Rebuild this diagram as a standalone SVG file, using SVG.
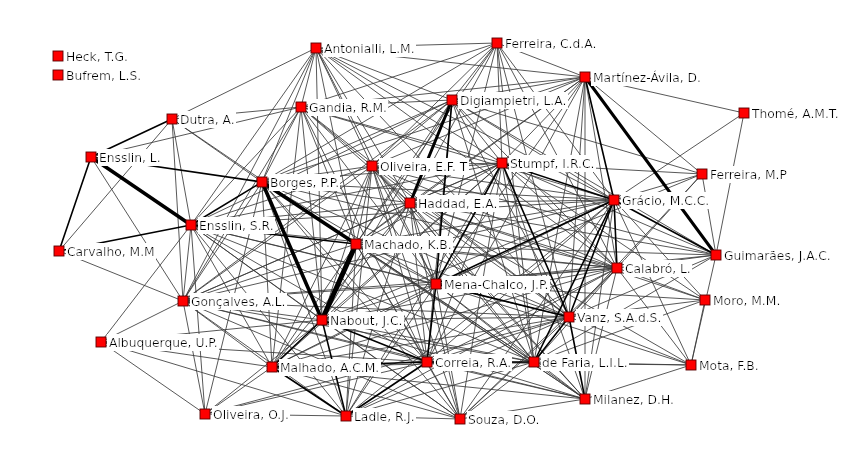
<svg xmlns="http://www.w3.org/2000/svg" width="850" height="458" viewBox="0 0 850 458">
<defs>
<filter id="lbl" x="-0.01" y="-0.05" width="1.02" height="1.1">
<feFlood flood-color="#ffffff" result="bg"/>
<feMerge><feMergeNode in="bg"/><feMergeNode in="SourceGraphic"/></feMerge>
</filter>
</defs>
<style>
.bg{fill:#fff}
#edges line{stroke:#3a3a3a;stroke-width:0.85;stroke-linecap:round}
#edges .m line{stroke:#000;stroke-width:1.6}
#edges .k line{stroke:#000;stroke-width:3.6}
.n rect{fill:#ff0000;stroke:#5a0000;stroke-width:0.9}
.n text{font-family:"DejaVu Sans","Liberation Sans",sans-serif;font-size:12.3px;fill:#000;filter:url(#lbl)}
</style>
<rect class="bg" x="0" y="0" width="850" height="458"/>
<g id="edges">
<g class="t">
<line x1="316" y1="48" x2="497" y2="43"/>
<line x1="316" y1="48" x2="301" y2="107"/>
<line x1="316" y1="48" x2="172" y2="119"/>
<line x1="316" y1="48" x2="262" y2="182"/>
<line x1="316" y1="48" x2="191" y2="225"/>
<line x1="316" y1="48" x2="183" y2="301"/>
<line x1="316" y1="48" x2="372" y2="166"/>
<line x1="316" y1="48" x2="410" y2="203"/>
<line x1="316" y1="48" x2="356" y2="244"/>
<line x1="316" y1="48" x2="322" y2="320"/>
<line x1="316" y1="48" x2="452" y2="100"/>
<line x1="316" y1="48" x2="502" y2="163"/>
<line x1="316" y1="48" x2="585" y2="77"/>
<line x1="316" y1="48" x2="614" y2="200"/>
<line x1="316" y1="48" x2="436" y2="284"/>
<line x1="316" y1="48" x2="569" y2="317"/>
<line x1="316" y1="48" x2="617" y2="268"/>
<line x1="497" y1="43" x2="452" y2="100"/>
<line x1="497" y1="43" x2="301" y2="107"/>
<line x1="497" y1="43" x2="372" y2="166"/>
<line x1="497" y1="43" x2="410" y2="203"/>
<line x1="497" y1="43" x2="502" y2="163"/>
<line x1="497" y1="43" x2="585" y2="77"/>
<line x1="497" y1="43" x2="614" y2="200"/>
<line x1="497" y1="43" x2="436" y2="284"/>
<line x1="497" y1="43" x2="569" y2="317"/>
<line x1="497" y1="43" x2="617" y2="268"/>
<line x1="497" y1="43" x2="356" y2="244"/>
<line x1="497" y1="43" x2="262" y2="182"/>
<line x1="497" y1="43" x2="534" y2="362"/>
<line x1="585" y1="77" x2="452" y2="100"/>
<line x1="585" y1="77" x2="301" y2="107"/>
<line x1="585" y1="77" x2="372" y2="166"/>
<line x1="585" y1="77" x2="410" y2="203"/>
<line x1="585" y1="77" x2="502" y2="163"/>
<line x1="585" y1="77" x2="744" y2="113"/>
<line x1="585" y1="77" x2="702" y2="174"/>
<line x1="585" y1="77" x2="617" y2="268"/>
<line x1="585" y1="77" x2="569" y2="317"/>
<line x1="585" y1="77" x2="436" y2="284"/>
<line x1="585" y1="77" x2="534" y2="362"/>
<line x1="585" y1="77" x2="585" y2="399"/>
<line x1="585" y1="77" x2="356" y2="244"/>
<line x1="585" y1="77" x2="427" y2="362"/>
<line x1="585" y1="77" x2="262" y2="182"/>
<line x1="744" y1="113" x2="614" y2="200"/>
<line x1="744" y1="113" x2="716" y2="255"/>
<line x1="172" y1="119" x2="301" y2="107"/>
<line x1="172" y1="119" x2="262" y2="182"/>
<line x1="172" y1="119" x2="191" y2="225"/>
<line x1="172" y1="119" x2="183" y2="301"/>
<line x1="172" y1="119" x2="59" y2="251"/>
<line x1="172" y1="119" x2="356" y2="244"/>
<line x1="301" y1="107" x2="91" y2="157"/>
<line x1="301" y1="107" x2="262" y2="182"/>
<line x1="301" y1="107" x2="191" y2="225"/>
<line x1="301" y1="107" x2="183" y2="301"/>
<line x1="301" y1="107" x2="372" y2="166"/>
<line x1="301" y1="107" x2="410" y2="203"/>
<line x1="301" y1="107" x2="356" y2="244"/>
<line x1="301" y1="107" x2="322" y2="320"/>
<line x1="301" y1="107" x2="452" y2="100"/>
<line x1="301" y1="107" x2="502" y2="163"/>
<line x1="301" y1="107" x2="614" y2="200"/>
<line x1="301" y1="107" x2="436" y2="284"/>
<line x1="301" y1="107" x2="427" y2="362"/>
<line x1="301" y1="107" x2="569" y2="317"/>
<line x1="301" y1="107" x2="272" y2="367"/>
<line x1="452" y1="100" x2="372" y2="166"/>
<line x1="452" y1="100" x2="502" y2="163"/>
<line x1="452" y1="100" x2="614" y2="200"/>
<line x1="452" y1="100" x2="702" y2="174"/>
<line x1="452" y1="100" x2="356" y2="244"/>
<line x1="452" y1="100" x2="569" y2="317"/>
<line x1="452" y1="100" x2="617" y2="268"/>
<line x1="452" y1="100" x2="427" y2="362"/>
<line x1="452" y1="100" x2="534" y2="362"/>
<line x1="452" y1="100" x2="262" y2="182"/>
<line x1="452" y1="100" x2="191" y2="225"/>
<line x1="452" y1="100" x2="322" y2="320"/>
<line x1="452" y1="100" x2="716" y2="255"/>
<line x1="452" y1="100" x2="183" y2="301"/>
<line x1="91" y1="157" x2="183" y2="301"/>
<line x1="372" y1="166" x2="502" y2="163"/>
<line x1="372" y1="166" x2="410" y2="203"/>
<line x1="372" y1="166" x2="614" y2="200"/>
<line x1="372" y1="166" x2="262" y2="182"/>
<line x1="372" y1="166" x2="191" y2="225"/>
<line x1="372" y1="166" x2="356" y2="244"/>
<line x1="372" y1="166" x2="436" y2="284"/>
<line x1="372" y1="166" x2="322" y2="320"/>
<line x1="372" y1="166" x2="427" y2="362"/>
<line x1="372" y1="166" x2="569" y2="317"/>
<line x1="372" y1="166" x2="534" y2="362"/>
<line x1="372" y1="166" x2="617" y2="268"/>
<line x1="372" y1="166" x2="183" y2="301"/>
<line x1="372" y1="166" x2="272" y2="367"/>
<line x1="372" y1="166" x2="346" y2="416"/>
<line x1="372" y1="166" x2="460" y2="419"/>
<line x1="372" y1="166" x2="716" y2="255"/>
<line x1="372" y1="166" x2="585" y2="399"/>
<line x1="502" y1="163" x2="410" y2="203"/>
<line x1="502" y1="163" x2="262" y2="182"/>
<line x1="502" y1="163" x2="191" y2="225"/>
<line x1="502" y1="163" x2="356" y2="244"/>
<line x1="502" y1="163" x2="322" y2="320"/>
<line x1="502" y1="163" x2="427" y2="362"/>
<line x1="502" y1="163" x2="534" y2="362"/>
<line x1="502" y1="163" x2="617" y2="268"/>
<line x1="502" y1="163" x2="716" y2="255"/>
<line x1="502" y1="163" x2="702" y2="174"/>
<line x1="502" y1="163" x2="705" y2="300"/>
<line x1="502" y1="163" x2="585" y2="399"/>
<line x1="502" y1="163" x2="183" y2="301"/>
<line x1="502" y1="163" x2="272" y2="367"/>
<line x1="502" y1="163" x2="346" y2="416"/>
<line x1="502" y1="163" x2="460" y2="419"/>
<line x1="702" y1="174" x2="614" y2="200"/>
<line x1="702" y1="174" x2="617" y2="268"/>
<line x1="702" y1="174" x2="569" y2="317"/>
<line x1="702" y1="174" x2="716" y2="255"/>
<line x1="702" y1="174" x2="436" y2="284"/>
<line x1="262" y1="182" x2="410" y2="203"/>
<line x1="262" y1="182" x2="614" y2="200"/>
<line x1="262" y1="182" x2="436" y2="284"/>
<line x1="262" y1="182" x2="427" y2="362"/>
<line x1="262" y1="182" x2="569" y2="317"/>
<line x1="262" y1="182" x2="534" y2="362"/>
<line x1="262" y1="182" x2="183" y2="301"/>
<line x1="262" y1="182" x2="272" y2="367"/>
<line x1="262" y1="182" x2="346" y2="416"/>
<line x1="262" y1="182" x2="617" y2="268"/>
<line x1="262" y1="182" x2="460" y2="419"/>
<line x1="262" y1="182" x2="585" y2="399"/>
<line x1="262" y1="182" x2="205" y2="414"/>
<line x1="410" y1="203" x2="614" y2="200"/>
<line x1="410" y1="203" x2="191" y2="225"/>
<line x1="410" y1="203" x2="356" y2="244"/>
<line x1="410" y1="203" x2="436" y2="284"/>
<line x1="410" y1="203" x2="322" y2="320"/>
<line x1="410" y1="203" x2="427" y2="362"/>
<line x1="410" y1="203" x2="569" y2="317"/>
<line x1="410" y1="203" x2="534" y2="362"/>
<line x1="410" y1="203" x2="617" y2="268"/>
<line x1="410" y1="203" x2="183" y2="301"/>
<line x1="410" y1="203" x2="272" y2="367"/>
<line x1="410" y1="203" x2="346" y2="416"/>
<line x1="410" y1="203" x2="460" y2="419"/>
<line x1="410" y1="203" x2="585" y2="399"/>
<line x1="410" y1="203" x2="705" y2="300"/>
<line x1="410" y1="203" x2="716" y2="255"/>
<line x1="410" y1="203" x2="691" y2="365"/>
<line x1="614" y1="200" x2="191" y2="225"/>
<line x1="614" y1="200" x2="356" y2="244"/>
<line x1="614" y1="200" x2="427" y2="362"/>
<line x1="614" y1="200" x2="183" y2="301"/>
<line x1="614" y1="200" x2="322" y2="320"/>
<line x1="614" y1="200" x2="272" y2="367"/>
<line x1="614" y1="200" x2="346" y2="416"/>
<line x1="614" y1="200" x2="460" y2="419"/>
<line x1="614" y1="200" x2="585" y2="399"/>
<line x1="614" y1="200" x2="691" y2="365"/>
<line x1="614" y1="200" x2="705" y2="300"/>
<line x1="191" y1="225" x2="183" y2="301"/>
<line x1="191" y1="225" x2="101" y2="342"/>
<line x1="191" y1="225" x2="322" y2="320"/>
<line x1="191" y1="225" x2="436" y2="284"/>
<line x1="191" y1="225" x2="427" y2="362"/>
<line x1="191" y1="225" x2="569" y2="317"/>
<line x1="191" y1="225" x2="534" y2="362"/>
<line x1="191" y1="225" x2="272" y2="367"/>
<line x1="191" y1="225" x2="346" y2="416"/>
<line x1="191" y1="225" x2="205" y2="414"/>
<line x1="191" y1="225" x2="617" y2="268"/>
<line x1="191" y1="225" x2="460" y2="419"/>
<line x1="356" y1="244" x2="436" y2="284"/>
<line x1="356" y1="244" x2="427" y2="362"/>
<line x1="356" y1="244" x2="569" y2="317"/>
<line x1="356" y1="244" x2="534" y2="362"/>
<line x1="356" y1="244" x2="183" y2="301"/>
<line x1="356" y1="244" x2="272" y2="367"/>
<line x1="356" y1="244" x2="346" y2="416"/>
<line x1="356" y1="244" x2="460" y2="419"/>
<line x1="356" y1="244" x2="617" y2="268"/>
<line x1="356" y1="244" x2="585" y2="399"/>
<line x1="356" y1="244" x2="716" y2="255"/>
<line x1="59" y1="251" x2="183" y2="301"/>
<line x1="716" y1="255" x2="617" y2="268"/>
<line x1="716" y1="255" x2="569" y2="317"/>
<line x1="716" y1="255" x2="436" y2="284"/>
<line x1="716" y1="255" x2="534" y2="362"/>
<line x1="716" y1="255" x2="691" y2="365"/>
<line x1="617" y1="268" x2="436" y2="284"/>
<line x1="617" y1="268" x2="569" y2="317"/>
<line x1="617" y1="268" x2="427" y2="362"/>
<line x1="617" y1="268" x2="534" y2="362"/>
<line x1="617" y1="268" x2="705" y2="300"/>
<line x1="617" y1="268" x2="691" y2="365"/>
<line x1="617" y1="268" x2="585" y2="399"/>
<line x1="617" y1="268" x2="322" y2="320"/>
<line x1="617" y1="268" x2="346" y2="416"/>
<line x1="617" y1="268" x2="460" y2="419"/>
<line x1="617" y1="268" x2="183" y2="301"/>
<line x1="617" y1="268" x2="272" y2="367"/>
<line x1="436" y1="284" x2="534" y2="362"/>
<line x1="436" y1="284" x2="322" y2="320"/>
<line x1="436" y1="284" x2="183" y2="301"/>
<line x1="436" y1="284" x2="272" y2="367"/>
<line x1="436" y1="284" x2="346" y2="416"/>
<line x1="436" y1="284" x2="460" y2="419"/>
<line x1="436" y1="284" x2="585" y2="399"/>
<line x1="436" y1="284" x2="705" y2="300"/>
<line x1="436" y1="284" x2="691" y2="365"/>
<line x1="183" y1="301" x2="101" y2="342"/>
<line x1="183" y1="301" x2="322" y2="320"/>
<line x1="183" y1="301" x2="569" y2="317"/>
<line x1="183" y1="301" x2="427" y2="362"/>
<line x1="183" y1="301" x2="534" y2="362"/>
<line x1="183" y1="301" x2="272" y2="367"/>
<line x1="183" y1="301" x2="346" y2="416"/>
<line x1="183" y1="301" x2="205" y2="414"/>
<line x1="183" y1="301" x2="585" y2="399"/>
<line x1="183" y1="301" x2="460" y2="419"/>
<line x1="705" y1="300" x2="569" y2="317"/>
<line x1="705" y1="300" x2="691" y2="365"/>
<line x1="705" y1="300" x2="534" y2="362"/>
<line x1="569" y1="317" x2="427" y2="362"/>
<line x1="569" y1="317" x2="322" y2="320"/>
<line x1="569" y1="317" x2="272" y2="367"/>
<line x1="569" y1="317" x2="346" y2="416"/>
<line x1="569" y1="317" x2="460" y2="419"/>
<line x1="569" y1="317" x2="691" y2="365"/>
<line x1="569" y1="317" x2="205" y2="414"/>
<line x1="322" y1="320" x2="534" y2="362"/>
<line x1="322" y1="320" x2="460" y2="419"/>
<line x1="322" y1="320" x2="585" y2="399"/>
<line x1="322" y1="320" x2="205" y2="414"/>
<line x1="322" y1="320" x2="101" y2="342"/>
<line x1="101" y1="342" x2="272" y2="367"/>
<line x1="101" y1="342" x2="205" y2="414"/>
<line x1="101" y1="342" x2="427" y2="362"/>
<line x1="101" y1="342" x2="346" y2="416"/>
<line x1="427" y1="362" x2="460" y2="419"/>
<line x1="427" y1="362" x2="585" y2="399"/>
<line x1="427" y1="362" x2="691" y2="365"/>
<line x1="427" y1="362" x2="205" y2="414"/>
<line x1="534" y1="362" x2="272" y2="367"/>
<line x1="534" y1="362" x2="346" y2="416"/>
<line x1="534" y1="362" x2="460" y2="419"/>
<line x1="534" y1="362" x2="585" y2="399"/>
<line x1="534" y1="362" x2="691" y2="365"/>
<line x1="272" y1="367" x2="205" y2="414"/>
<line x1="272" y1="367" x2="460" y2="419"/>
<line x1="272" y1="367" x2="585" y2="399"/>
<line x1="691" y1="365" x2="585" y2="399"/>
<line x1="585" y1="399" x2="460" y2="419"/>
<line x1="346" y1="416" x2="205" y2="414"/>
<line x1="346" y1="416" x2="460" y2="419"/>
</g>
<g class="m">
<line x1="172" y1="119" x2="91" y2="157"/>
<line x1="91" y1="157" x2="262" y2="182"/>
<line x1="91" y1="157" x2="59" y2="251"/>
<line x1="59" y1="251" x2="191" y2="225"/>
<line x1="191" y1="225" x2="262" y2="182"/>
<line x1="191" y1="225" x2="356" y2="244"/>
<line x1="585" y1="77" x2="614" y2="200"/>
<line x1="614" y1="200" x2="716" y2="255"/>
<line x1="614" y1="200" x2="436" y2="284"/>
<line x1="614" y1="200" x2="569" y2="317"/>
<line x1="614" y1="200" x2="502" y2="163"/>
<line x1="614" y1="200" x2="617" y2="268"/>
<line x1="614" y1="200" x2="534" y2="362"/>
<line x1="502" y1="163" x2="569" y2="317"/>
<line x1="502" y1="163" x2="436" y2="284"/>
<line x1="452" y1="100" x2="436" y2="284"/>
<line x1="427" y1="362" x2="272" y2="367"/>
<line x1="427" y1="362" x2="346" y2="416"/>
<line x1="272" y1="367" x2="346" y2="416"/>
<line x1="322" y1="320" x2="427" y2="362"/>
<line x1="322" y1="320" x2="272" y2="367"/>
<line x1="322" y1="320" x2="346" y2="416"/>
<line x1="436" y1="284" x2="569" y2="317"/>
<line x1="436" y1="284" x2="427" y2="362"/>
<line x1="534" y1="362" x2="569" y2="317"/>
<line x1="534" y1="362" x2="427" y2="362"/>
<line x1="569" y1="317" x2="585" y2="399"/>
</g>
<g class="k">
<line x1="91" y1="157" x2="191" y2="225"/>
<line x1="262" y1="182" x2="322" y2="320"/>
<line x1="262" y1="182" x2="356" y2="244"/>
<line x1="356" y1="244" x2="322" y2="320" style="stroke-width:5"/>
<line x1="585" y1="77" x2="716" y2="255" style="stroke-width:3"/>
<line x1="452" y1="100" x2="410" y2="203" style="stroke-width:3"/>
</g>
</g>
<g id="nodes">
<g class="n" id="n-heck"><rect x="53" y="51" width="10" height="10"/><text x="66" y="60.5">Heck, T.G.</text></g>
<g class="n" id="n-bufrem"><rect x="53" y="70" width="10" height="10"/><text x="66" y="79.5">Bufrem, L.S.</text></g>
<g class="n" id="n-antonialli"><rect x="311" y="43" width="10" height="10"/><text x="324" y="52.5">Antonialli, L.M.</text></g>
<g class="n" id="n-ferreira-cda"><rect x="492" y="38" width="10" height="10"/><text x="505" y="47.5">Ferreira, C.d.A.</text></g>
<g class="n" id="n-martinez"><rect x="580" y="72" width="10" height="10"/><text x="593" y="81.5">Martínez-Ávila, D.</text></g>
<g class="n" id="n-thome"><rect x="739" y="108" width="10" height="10"/><text x="752" y="117.5">Thomé, A.M.T.</text></g>
<g class="n" id="n-dutra"><rect x="167" y="114" width="10" height="10"/><text x="180" y="123.5">Dutra, A.</text></g>
<g class="n" id="n-gandia"><rect x="296" y="102" width="10" height="10"/><text x="309" y="111.5">Gandia, R.M.</text></g>
<g class="n" id="n-digiampietri"><rect x="447" y="95" width="10" height="10"/><text x="460" y="104.5">Digiampietri, L.A.</text></g>
<g class="n" id="n-ensslin-l"><rect x="86" y="152" width="10" height="10"/><text x="99" y="161.5">Ensslin, L.</text></g>
<g class="n" id="n-oliveira-eft"><rect x="367" y="161" width="10" height="10"/><text x="380" y="170.5">Oliveira, E.F. T</text></g>
<g class="n" id="n-stumpf"><rect x="497" y="158" width="10" height="10"/><text x="510" y="167.5">Stumpf, I.R.C.</text></g>
<g class="n" id="n-ferreira-mp"><rect x="697" y="169" width="10" height="10"/><text x="710" y="178.5">Ferreira, M.P</text></g>
<g class="n" id="n-borges"><rect x="257" y="177" width="10" height="10"/><text x="270" y="186.5">Borges, P.P.</text></g>
<g class="n" id="n-haddad"><rect x="405" y="198" width="10" height="10"/><text x="418" y="207.5">Haddad, E.A.</text></g>
<g class="n" id="n-gracio"><rect x="609" y="195" width="10" height="10"/><text x="622" y="204.5">Grácio, M.C.C.</text></g>
<g class="n" id="n-ensslin-sr"><rect x="186" y="220" width="10" height="10"/><text x="199" y="229.5">Ensslin, S.R.</text></g>
<g class="n" id="n-machado"><rect x="351" y="239" width="10" height="10"/><text x="364" y="248.5">Machado, K.B.</text></g>
<g class="n" id="n-carvalho"><rect x="54" y="246" width="10" height="10"/><text x="67" y="255.5">Carvalho, M.M</text></g>
<g class="n" id="n-guimaraes"><rect x="711" y="250" width="10" height="10"/><text x="724" y="259.5">Guimarães, J.A.C.</text></g>
<g class="n" id="n-calabro"><rect x="612" y="263" width="10" height="10"/><text x="625" y="272.5">Calabró, L.</text></g>
<g class="n" id="n-mena-chalco"><rect x="431" y="279" width="10" height="10"/><text x="444" y="288.5">Mena-Chalco, J.P.</text></g>
<g class="n" id="n-goncalves"><rect x="178" y="296" width="10" height="10"/><text x="191" y="305.5">Gonçalves, A.L.</text></g>
<g class="n" id="n-moro"><rect x="700" y="295" width="10" height="10"/><text x="713" y="304.5">Moro, M.M.</text></g>
<g class="n" id="n-vanz"><rect x="564" y="312" width="10" height="10"/><text x="577" y="321.5">Vanz, S.A.d.S.</text></g>
<g class="n" id="n-nabout"><rect x="317" y="315" width="10" height="10"/><text x="330" y="324.5">Nabout, J.C.</text></g>
<g class="n" id="n-albuquerque"><rect x="96" y="337" width="10" height="10"/><text x="109" y="346.5">Albuquerque, U.P.</text></g>
<g class="n" id="n-correia"><rect x="422" y="357" width="10" height="10"/><text x="435" y="366.5">Correia, R.A.</text></g>
<g class="n" id="n-de-faria"><rect x="529" y="357" width="10" height="10"/><text x="542" y="366.5">de Faria, L.I.L.</text></g>
<g class="n" id="n-malhado"><rect x="267" y="362" width="10" height="10"/><text x="280" y="371.5">Malhado, A.C.M.</text></g>
<g class="n" id="n-mota"><rect x="686" y="360" width="10" height="10"/><text x="699" y="369.5">Mota, F.B.</text></g>
<g class="n" id="n-milanez"><rect x="580" y="394" width="10" height="10"/><text x="593" y="403.5">Milanez, D.H.</text></g>
<g class="n" id="n-oliveira-oj"><rect x="200" y="409" width="10" height="10"/><text x="213" y="418.5">Oliveira, O.J.</text></g>
<g class="n" id="n-ladle"><rect x="341" y="411" width="10" height="10"/><text x="354" y="420.5">Ladle, R.J.</text></g>
<g class="n" id="n-souza"><rect x="455" y="414" width="10" height="10"/><text x="468" y="423.5">Souza, D.O.</text></g>
</g>
</svg>
